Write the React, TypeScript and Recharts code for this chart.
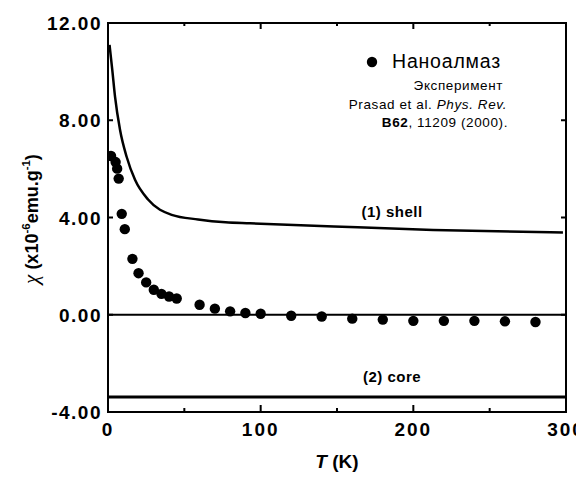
import React from "react";
import {
  ComposedChart,
  Line,
  Scatter,
  XAxis,
  YAxis,
  ReferenceLine,
} from "recharts";

const experimentT = [2, 5, 6, 7, 9, 11, 16, 20, 25, 30, 35, 40, 45, 60, 70, 80, 90, 100, 120, 140, 160, 180, 200, 220, 240, 260, 280];
const experimentChi = [6.53, 6.28, 6.01, 5.6, 4.15, 3.52, 2.3, 1.71, 1.33, 1.03, 0.86, 0.75, 0.67, 0.41, 0.25, 0.14, 0.07, 0.04, -0.04, -0.07, -0.16, -0.2, -0.25, -0.25, -0.25, -0.27, -0.3];

const shellT = [1, 2.8, 4.6, 7.9, 12.2, 17.7, 26.4, 41.7, 59, 77, 93, 148, 213, 298];
const shellChi = [11.1, 10.07, 8.97, 7.6, 6.5, 5.55, 4.73, 4.11, 3.92, 3.8, 3.76, 3.63, 3.49, 3.38];

const coreChi = -3.38;

const xDomain = [0, 300];
const yDomain = [-4, 12];
const xTicks = [0, 50, 100, 150, 200, 250, 300];
const xLabels = ["0", "", "100", "", "200", "", "300"];
const yTicks = [-4, 0, 4, 8, 12];
const yLabels = ["-4.00", "0.00", "4.00", "8.00", "12.00"];

const experiment = experimentT.map((T, i) => ({ T, chi: experimentChi[i] }));
const shell = shellT.map((T, i) => ({ T, chi: shellChi[i] }));

const W = 576;
const H = 472;
const MARGIN = { top: 15, right: 18, bottom: 0, left: 0 };
const Y_AXIS_W = 100;
const X_AXIS_H = 68;
const PLOT = {
  left: MARGIN.left + Y_AXIS_W,
  top: MARGIN.top,
  width: W - MARGIN.left - MARGIN.right - Y_AXIS_W,
  height: H - MARGIN.top - MARGIN.bottom - X_AXIS_H,
};
const FONT = "'Liberation Sans', Arial, sans-serif";

const sx = (v: number) => PLOT.left + ((v - xDomain[0]) / (xDomain[1] - xDomain[0])) * PLOT.width;
const sy = (v: number) => PLOT.top + ((yDomain[1] - v) / (yDomain[1] - yDomain[0])) * PLOT.height;

const XTick = (props: any) => {
  const { x, y, payload } = props;
  const idx = xTicks.indexOf(payload.value);
  const lbl = xLabels[idx] ?? "";
  return lbl ? (
    <text x={x} y={y + 24} textAnchor="middle" fontFamily={FONT} fontWeight="bold" fontSize={19} letterSpacing={2} fill="#000">
      {lbl}
    </text>
  ) : (
    <g />
  );
};

const YTick = (props: any) => {
  const { x, y, payload } = props;
  const idx = yTicks.indexOf(payload.value);
  const lbl = yLabels[idx] ?? "";
  return (
    <text x={x - 6} y={y + 7} textAnchor="end" fontFamily={FONT} fontWeight="bold" fontSize={19} letterSpacing={1.5} fill="#000">
      {lbl}
    </text>
  );
};

export default function App() {
  const inner = (arr: number[]) => arr.slice(1, -1);
  return (
    <div style={{ position: "relative", width: W, height: H }}>
      <ComposedChart width={W} height={H} margin={MARGIN}>
        <XAxis
          type="number"
          dataKey="T"
          domain={xDomain}
          ticks={xTicks}
          interval={0}
          height={X_AXIS_H}
          tickSize={0}
          tickMargin={0}
          tickLine={false}
          tick={<XTick />}
          axisLine={{ stroke: "#000", strokeWidth: 2 }}
          allowDataOverflow
        />
        <YAxis
          type="number"
          dataKey="chi"
          domain={yDomain}
          ticks={yTicks}
          interval={0}
          width={Y_AXIS_W}
          tickSize={0}
          tickMargin={0}
          tickLine={false}
          tick={<YTick />}
          axisLine={{ stroke: "#000", strokeWidth: 2 }}
          allowDataOverflow
        />
        <ReferenceLine y={0} stroke="#000" strokeWidth={1.8} />
        <ReferenceLine
          y={coreChi}
          stroke="#000"
          strokeWidth={3}
          label={{ value: "(2) core", position: "insideBottom", dx: 55, dy: -10, fill: "#000", fontSize: 15, fontWeight: "bold", fontFamily: FONT, letterSpacing: 0.5 }}
        />
        <Line
          data={shell}
          dataKey="chi"
          type="monotone"
          stroke="#000"
          strokeWidth={2.5}
          dot={false}
          isAnimationActive={false}
        />
        <Scatter data={experiment} dataKey="chi" fill="#000" isAnimationActive={false} shape={(p: any) => <circle cx={p.cx} cy={p.cy} r={5.2} fill="#000" />} />
      </ComposedChart>
      <svg width={W} height={H} style={{ position: "absolute", left: 0, top: 0, pointerEvents: "none" }}>
        <rect x={PLOT.left} y={PLOT.top} width={PLOT.width} height={PLOT.height} fill="none" stroke="#000" strokeWidth={2} />
        {inner(xTicks).map((t, i) => {
          const major = xLabels[i + 1] !== "";
          return (
            <g key={"tx" + i}>
              <rect x={sx(t) - 1} y={PLOT.top} width={2} height={major ? 6 : 3} fill="#000" />
              <rect x={sx(t) - 1} y={PLOT.top + PLOT.height - (major ? 7 : 4)} width={2} height={major ? 7 : 4} fill="#000" />
            </g>
          );
        })}
        {inner(yTicks).map((v, i) => (
          <g key={"ty" + i}>
            <rect x={PLOT.left} y={sy(v) - 1} width={5} height={2} fill="#000" />
            <rect x={PLOT.left + PLOT.width - 5} y={sy(v) - 1} width={5} height={2} fill="#000" />
          </g>
        ))}
        <text x={384} y={209} textAnchor="middle" fontFamily={FONT} fontWeight="bold" fontSize={15} letterSpacing={0.5} fill="#000">
          (1) shell
        </text>
        <circle cx={364} cy={54} r={5.2} fill="#000" />
        <text x={384} y={60} fontFamily={FONT} fontSize={19.5} letterSpacing={0.8} fill="#000">
          Наноалмаз
        </text>
        <text x={495} y={82} textAnchor="end" fontFamily={FONT} fontSize={13.5} letterSpacing={0.6} fill="#000">
          Эксперимент
        </text>
        <text x={499} y={101} textAnchor="end" fontFamily={FONT} fontSize={13.5} letterSpacing={0.6} fill="#000">
          Prasad et al. <tspan fontStyle="italic">Phys. Rev.</tspan>
        </text>
        <text x={500} y={119} textAnchor="end" fontFamily={FONT} fontSize={13.5} letterSpacing={0.6} fill="#000">
          <tspan fontWeight="bold">B62</tspan>, 11209 (2000).
        </text>
        <text
          transform="translate(30,211) rotate(-90)"
          textAnchor="middle"
          fontFamily={FONT}
          fontWeight="bold"
          fontSize={18}
          fill="#000"
        >
          <tspan fontFamily="'Liberation Serif', serif" fontStyle="italic" fontWeight="normal" fontSize={21}>χ</tspan>
          <tspan> (x10</tspan>
          <tspan fontSize={11.5} dy={-8}>-6</tspan>
          <tspan dy={8}>emu.g</tspan>
          <tspan fontSize={11.5} dy={-8}>-1</tspan>
          <tspan dy={8}>)</tspan>
        </text>
        <text x={329} y={460} textAnchor="middle" fontFamily={FONT} fontWeight="bold" fontSize={19} fill="#000">
          <tspan fontStyle="italic">T</tspan> (K)
        </text>
      </svg>
    </div>
  );
}
